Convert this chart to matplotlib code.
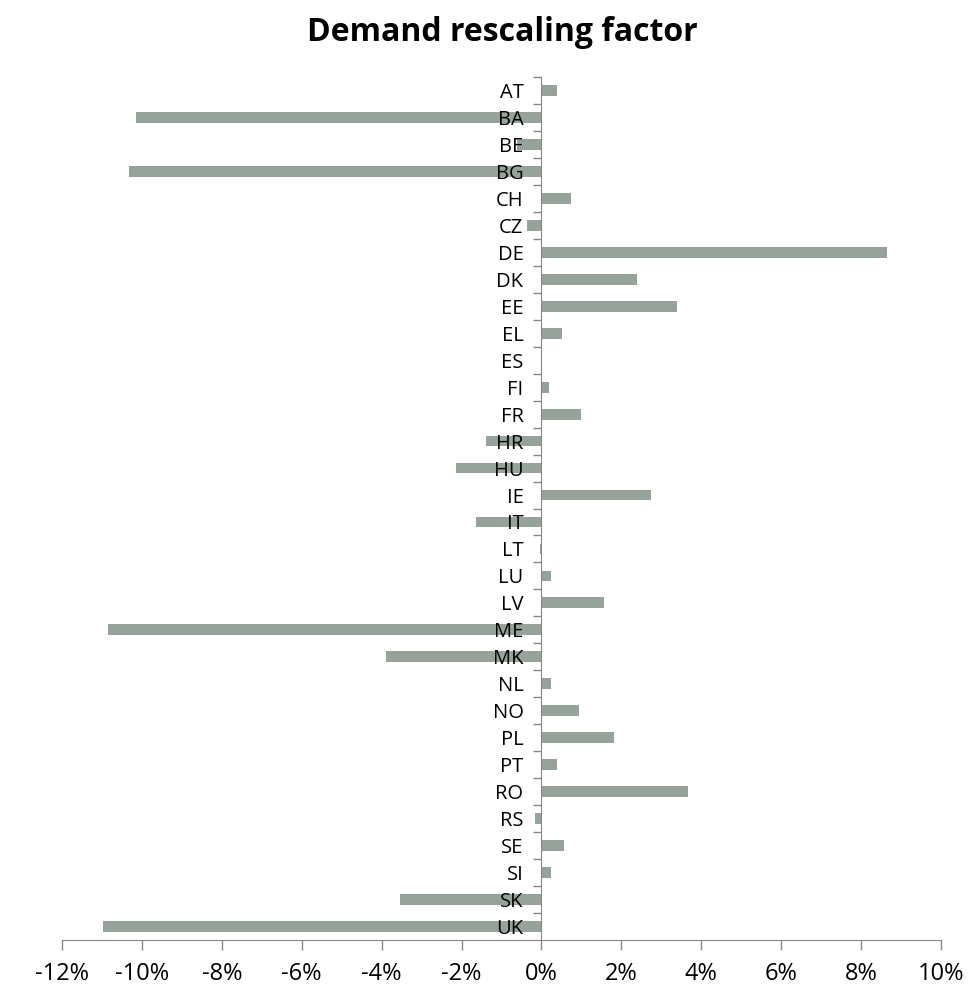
import matplotlib
matplotlib.use('Agg')
from matplotlib import pyplot as plt
from matplotlib.ticker import FixedLocator, FuncFormatter

plt.rcParams['font.family'] = ['Open Sans', 'DejaVu Sans']

countries = ['AT', 'BA', 'BE', 'BG', 'CH', 'CZ', 'DE', 'DK', 'EE', 'EL', 'ES', 'FI', 'FR', 'HR', 'HU', 'IE',
             'IT', 'LT', 'LU', 'LV', 'ME', 'MK', 'NL', 'NO', 'PL', 'PT', 'RO', 'RS', 'SE', 'SI', 'SK', 'UK']
# demand rescaling factor, percent
factor = [0.40, -10.16, -0.60, -10.32, 0.73, -0.37, 8.64, 2.38, 3.38, 0.52, 0.0, 0.19, 0.98, -1.39, -2.13, 2.74,
          -1.65, -0.04, 0.25, 1.56, -10.85, -3.88, 0.25, 0.93, 1.82, 0.38, 3.68, -0.16, 0.57, 0.25, -3.54, -10.97]
xticks = list(range(-12, 11, 2))

bar_color = '#95a39a'
axis_color = '#868686'

fig = plt.figure(figsize=(9.79, 9.92), dpi=100)
ax = fig.add_axes([62 / 979, 52 / 992, 879 / 979, 863 / 992])

pos = list(range(len(countries)))
ax.barh(pos, factor, height=0.4, color=bar_color, zorder=1)

ax.set_xlim(-12, 10)
ax.set_ylim(len(countries) - 0.5, -0.5)

ax.set_xticks(xticks)
ax.xaxis.set_major_formatter(FuncFormatter(lambda v, p: '%d%%' % v))
ax.tick_params(axis='x', direction='out', length=7, width=1, color=axis_color, labelsize=17, pad=9)

ax.set_yticks(pos)
ax.set_yticklabels(countries)
ax.yaxis.set_minor_locator(FixedLocator([p - 0.5 for p in pos]))
ax.tick_params(axis='y', which='major', length=0, labelsize=14.5, pad=13)
ax.tick_params(axis='y', which='minor', direction='out', length=6, width=1, color=axis_color)

ax.spines['left'].set_position(('data', 0))
ax.spines['left'].set_color(axis_color)
ax.spines['bottom'].set_color(axis_color)
ax.spines['top'].set_visible(False)
ax.spines['right'].set_visible(False)

fig.text(0.513, 0.967, 'Demand rescaling factor', ha='center', va='center', fontsize=23, fontweight='bold')

plt.savefig('out.png', dpi=100)
